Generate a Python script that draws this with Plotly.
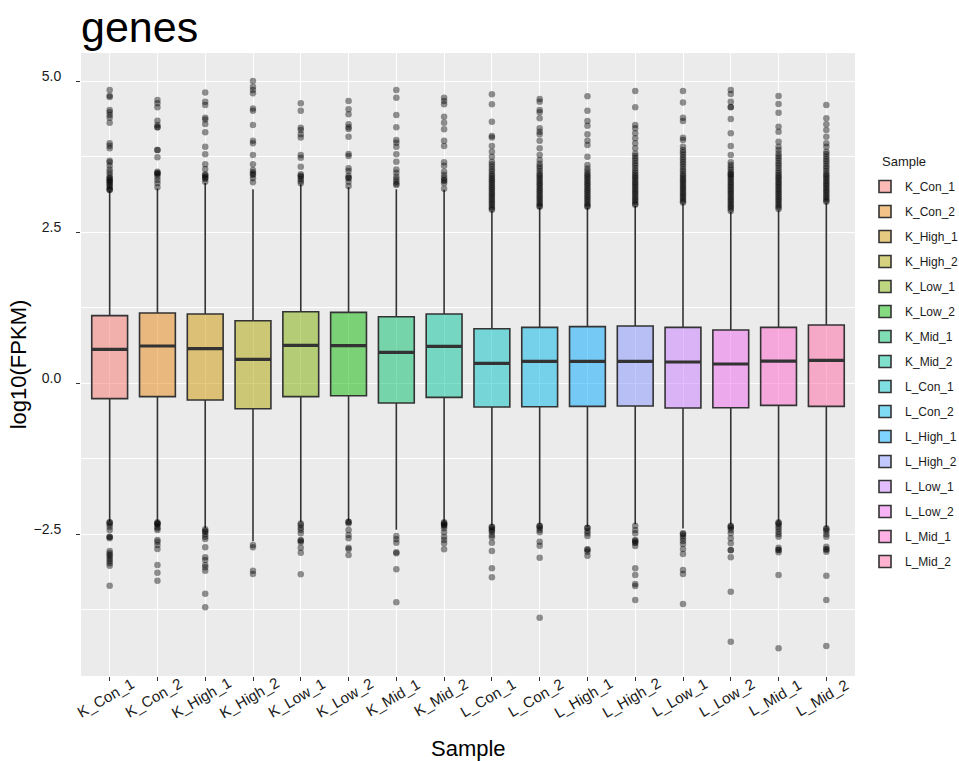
import math
import plotly.graph_objects as go

# ---- data -------------------------------------------------------------
samples = ["K_Con_1", "K_Con_2", "K_High_1", "K_High_2", "K_Low_1", "K_Low_2",
           "K_Mid_1", "K_Mid_2", "L_Con_1", "L_Con_2", "L_High_1", "L_High_2",
           "L_Low_1", "L_Low_2", "L_Mid_1", "L_Mid_2"]

q1 = [-0.259, -0.226, -0.281, -0.425, -0.226, -0.210, -0.331, -0.237,
      -0.397, -0.392, -0.386, -0.381, -0.414, -0.409, -0.370, -0.386]
median = [0.557, 0.613, 0.568, 0.392, 0.623, 0.618, 0.508, 0.607,
          0.325, 0.359, 0.359, 0.359, 0.348, 0.315, 0.364, 0.375]
q3 = [1.115, 1.159, 1.142, 1.032, 1.181, 1.170, 1.098, 1.142,
      0.899, 0.922, 0.933, 0.944, 0.922, 0.877, 0.922, 0.960]
upper_whisker = [3.18, 3.22, 3.31, 3.21, 3.29, 3.24, 3.21, 3.20,
                 2.85, 2.90, 2.90, 2.93, 2.97, 2.83, 2.86, 2.98]
lower_whisker = [-2.29, -2.29, -2.40, -2.62, -2.30, -2.28, -2.43, -2.29,
                 -2.36, -2.34, -2.38, -2.34, -2.41, -2.34, -2.29, -2.39]

outliers = {
    "K_Con_1": [4.851, 4.757, 4.735, 4.520, 4.481, 4.437, 4.393, 4.310, 3.968, 3.930,
                3.885, 3.681, 3.654, 3.598, 3.537, 3.488, 3.444, 3.389, 3.356, 3.322,
                3.278, 3.195, 3.20, 3.22, 3.25, 3.30, 3.35, 3.40,
                -2.307, -2.340, -2.378, -2.433, -2.544, -2.572, -2.781, -2.820, -2.848,
                -2.875, -2.914, -2.947, -2.986, -3.024, -3.355, -2.31, -2.55],
    "K_Con_2": [4.685, 4.630, 4.564, 4.343, 4.272, 4.233, 4.236, 3.858, 3.860, 3.736,
                3.499, 3.455, 3.470, 3.416, 3.361, 3.306, 3.240, 3.48,
                -2.307, -2.320, -2.340, -2.378, -2.406, -2.433, -2.599, -2.627,
                -2.682, -2.748, -3.013, -3.140, -3.273, -2.33],
    "K_High_1": [4.812, 4.657, 4.602, 4.393, 4.365, 4.288, 4.150, 3.913, 3.786, 3.620,
                 3.543, 3.455, 3.416, 3.377, 3.333, 3.40, 3.44,
                 -2.422, -2.461, -2.505, -2.544, -2.583, -2.721, -2.886, -2.930, -3.013,
                 -3.052, -3.107, -3.488, -3.714, -2.45],
    "K_High_2": [5.000, 4.906, 4.851, 4.796, 4.547, 4.509, 4.272, 4.012, 3.968, 3.775,
                 3.620, 3.526, 3.488, 3.444, 3.389, 3.322, 3.46,
                 -2.682, -2.721, -3.107, -3.162],
    "K_Low_1": [4.630, 4.509, 4.228, 4.189, 4.117, 4.067, 3.775, 3.731, 3.582, 3.455,
                3.416, 3.377, 3.344, 3.306, 3.43,
                -2.324, -2.395, -2.433, -2.489, -2.599, -2.638, -2.726, -2.809, -3.168,
                -2.35, -2.61],
    "K_Low_2": [4.669, 4.531, 4.448, 4.283, 4.233, 4.206, 4.079, 3.791, 3.758, 3.554,
                3.510, 3.433, 3.389, 3.333, 3.262, 3.40,
                -2.296, -2.324, -2.433, -2.516, -2.572, -2.726, -2.753, -2.848, -2.30],
    "K_Mid_1": [4.851, 4.724, 4.437, 4.233, 4.023, 3.979, 3.913, 3.786, 3.664, 3.537,
                3.482, 3.416, 3.372, 3.333, 3.278, 3.30,
                -2.533, -2.588, -2.643, -2.803, -2.820, -3.085, -3.631],
    "K_Mid_2": [4.724, 4.669, 4.614, 4.410, 4.310, 4.200, 4.012, 3.924, 3.654, 3.598,
                3.499, 3.444, 3.400, 3.344, 3.306, 3.218, 3.36,
                -2.307, -2.340, -2.368, -2.406, -2.472, -2.544, -2.599, -2.654, -2.753,
                -2.32, -2.35],
    "L_Con_1": [4.779, 4.614, 4.327, 4.090, 4.067, 3.924, 3.830, 3.747, 3.664, 3.62,
                3.58, 3.54, 3.50, 3.46, 3.43, 3.40, 3.37, 3.34, 3.31, 3.28, 3.25, 3.22,
                3.19, 3.16, 3.13, 3.10, 3.07, 3.04, 3.01, 2.98, 2.95, 2.92, 2.89, 2.87,
                -2.378, -2.417, -2.461, -2.516, -2.555, -2.643, -2.781, -3.068, -3.218,
                -2.39, -2.44],
    "L_Con_2": [4.702, 4.657, 4.520, 4.481, 4.382, 4.217, 4.161, 4.117, 4.012, 3.885,
                3.775, 3.692, 3.63, 3.59, 3.55, 3.51, 3.47, 3.44, 3.41, 3.38, 3.35, 3.32,
                3.29, 3.26, 3.23, 3.20, 3.17, 3.14, 3.11, 3.08, 3.05, 3.02, 2.99, 2.96,
                2.93, 2.92,
                -2.362, -2.395, -2.433, -2.472, -2.627, -2.693, -2.892, -3.885, -2.37],
    "L_High_1": [4.746, 4.509, 4.338, 4.261, 4.117, 4.012, 3.940, 3.747, 3.609, 3.55,
                 3.51, 3.47, 3.44, 3.41, 3.38, 3.35, 3.32, 3.29, 3.26, 3.23, 3.20, 3.17,
                 3.14, 3.11, 3.08, 3.05, 3.02, 2.99, 2.96, 2.93, 2.92,
                 -2.395, -2.450, -2.489, -2.533, -2.753, -2.792, -2.858, -2.40, -2.76],
    "L_High_2": [4.834, 4.564, 4.272, 4.217, 4.134, 4.051, 3.968, 3.885, 3.80, 3.76,
                 3.72, 3.68, 3.64, 3.60, 3.56, 3.52, 3.48, 3.45, 3.42, 3.39, 3.36, 3.33,
                 3.30, 3.27, 3.24, 3.21, 3.18, 3.15, 3.12, 3.09, 3.06, 3.03, 3.00, 2.97,
                 2.95,
                 -2.362, -2.433, -2.489, -2.599, -2.638, -2.699, -3.068, -3.179, -3.328,
                 -3.361, -3.593, -2.61, -2.65],
    "L_Low_1": [4.834, 4.646, 4.393, 4.338, 4.062, 4.023, 3.913, 3.86, 3.82, 3.78,
                3.74, 3.70, 3.66, 3.62, 3.58, 3.54, 3.50, 3.46, 3.43, 3.40, 3.37, 3.34,
                3.31, 3.28, 3.25, 3.22, 3.19, 3.16, 3.13, 3.10, 3.07, 3.04, 3.01, 2.99,
                -2.489, -2.527, -2.572, -2.616, -2.666, -2.748, -2.831, -3.096, -3.162,
                -3.659, -2.50],
    "L_Low_2": [4.851, 4.785, 4.657, 4.564, 4.371, 4.134, 3.924, 3.775, 3.654, 3.61,
                3.57, 3.53, 3.49, 3.45, 3.42, 3.39, 3.36, 3.33, 3.30, 3.27, 3.24, 3.21,
                3.18, 3.15, 3.12, 3.09, 3.06, 3.03, 3.00, 2.97, 2.94, 2.91, 2.88, 2.85,
                4.57, 3.46,
                -2.362, -2.395, -2.433, -2.489, -2.572, -2.654, -2.764, -2.886, -3.455,
                -4.283, -2.38, -2.77],
    "L_Mid_1": [4.752, 4.619, 4.476, 4.244, 4.161, 3.996, 3.913, 3.858, 3.80, 3.76,
                3.72, 3.68, 3.64, 3.60, 3.56, 3.52, 3.48, 3.45, 3.42, 3.39, 3.36, 3.33,
                3.30, 3.27, 3.24, 3.21, 3.18, 3.15, 3.12, 3.09, 3.06, 3.03, 3.00, 2.97,
                2.94, 2.91, 2.88,
                -2.307, -2.340, -2.378, -2.417, -2.461, -2.505, -2.544, -2.726, -2.764,
                -2.803, -3.179, -4.393, -2.32, -2.76],
    "L_Mid_2": [4.603, 4.382, 4.283, 4.189, 4.079, 3.968, 3.913, 3.83, 3.79, 3.75,
                3.71, 3.67, 3.63, 3.59, 3.55, 3.51, 3.47, 3.44, 3.41, 3.38, 3.35, 3.32,
                3.29, 3.26, 3.23, 3.20, 3.17, 3.14, 3.11, 3.08, 3.05, 3.02, 3.00,
                -2.406, -2.450, -2.505, -2.544, -2.710, -2.748, -2.792, -3.190, -3.593,
                -4.354, -2.42, -2.76],
}

# ---- styling ---------------------------------------------------------
def hue_colour(h, c=100.0, l=65.0):
    """Polar Luv (HCL) colour to an sRGB triple, D65 white."""
    xn, yn, zn = 95.047, 100.0, 108.883
    un = 4 * xn / (xn + 15 * yn + 3 * zn)
    vn = 9 * yn / (xn + 15 * yn + 3 * zn)
    u = c * math.cos(math.radians(h))
    v = c * math.sin(math.radians(h))
    y = ((l + 16) / 116) ** 3
    up = u / (13 * l) + un
    vp = v / (13 * l) + vn
    x = 9 * y * up / (4 * vp)
    z = y * (12 - 3 * up - 20 * vp) / (4 * vp)
    lin = [3.240479 * x - 1.537150 * y - 0.498535 * z,
           -0.969256 * x + 1.875992 * y + 0.041556 * z,
           0.055648 * x - 0.204043 * y + 1.057311 * z]
    out = []
    for ch in lin:
        ch = 12.92 * ch if ch <= 0.0031308 else 1.055 * ch ** (1 / 2.4) - 0.055
        out.append(int(round(min(max(ch, 0.0), 1.0) * 255)))
    return out


n = len(samples)
palette = [hue_colour(15 + 360.0 * i / n) for i in range(n)]

FONT = "Liberation Sans, Arial, sans-serif"
EDGE = "#333333"
TEXT = "#1a1a1a"
BOX_W = 0.75

# plot-area geometry in pixels (used to place the side texts)
W, H = 959, 761
ML, MR, MT, MB = 81, 104, 53, 85
PW, PH = W - ML - MR, H - MT - MB


def px_to_paper(xp, yp):
    return (xp - ML) / PW, (H - MB - yp) / PH


fig = go.Figure()

for i, name in enumerate(samples):
    r, g, b = palette[i]
    fig.add_trace(go.Box(
        x=[i], q1=[q1[i]], median=[median[i]], q3=[q3[i]],
        lowerfence=[lower_whisker[i]], upperfence=[upper_whisker[i]],
        name=name, legendgroup=name, width=BOX_W,
        fillcolor=f"rgba({r},{g},{b},0.5)",
        line=dict(color=EDGE, width=1.6),
        whiskerwidth=0, boxpoints=False, hoverinfo="skip",
    ))

# thicker median bars, as in a ggplot boxplot
mx, my = [], []
for i, m in enumerate(median):
    mx += [i - BOX_W / 2, i + BOX_W / 2, None]
    my += [m, m, None]
fig.add_trace(go.Scatter(x=mx, y=my, mode="lines", showlegend=False,
                         line=dict(color=EDGE, width=3.2), hoverinfo="skip"))

# outlying genes
ox, oy = [], []
for i, name in enumerate(samples):
    ox += [i] * len(outliers[name])
    oy += outliers[name]
fig.add_trace(go.Scatter(x=ox, y=oy, mode="markers", showlegend=False,
                         marker=dict(color="black", opacity=0.42, size=6.5,
                                     line=dict(width=0)),
                         hoverinfo="skip"))

# category labels: slanted, centred under each tick
annotations = []
_, lab_y = px_to_paper(0, 697)
for i, name in enumerate(samples):
    annotations.append(dict(
        x=i, xref="x", y=lab_y, yref="paper", text=name, showarrow=False,
        textangle=-30, xanchor="center", yanchor="middle", xshift=-4,
        font=dict(family=FONT, size=15, color=TEXT)))
_, xt_y = px_to_paper(0, 748)
annotations.append(dict(
    x=0.5, xref="paper", y=xt_y, yref="paper", text="Sample", showarrow=False,
    xanchor="center", yanchor="middle", font=dict(family=FONT, size=22, color="black")))
# legend heading
lh_x, lh_y = px_to_paper(880, 161)
annotations.append(dict(
    x=lh_x, xref="paper", y=lh_y, yref="paper",
    text="Sample", showarrow=False, xanchor="left", yanchor="middle",
    font=dict(family=FONT, size=13, color=TEXT)))

lg_x, lg_y = px_to_paper(865, 172)
fig.update_layout(
    width=W, height=H,
    margin=dict(l=ML, r=MR, t=MT, b=MB, autoexpand=False),
    paper_bgcolor="white", plot_bgcolor="#EBEBEB",
    font=dict(family=FONT, color=TEXT),
    title=dict(text="genes", x=ML / W, xanchor="left", y=0.985, yanchor="top",
               font=dict(size=43, color="black")),
    showlegend=True,
    legend=dict(font=dict(size=12, color=TEXT), itemwidth=30,
                x=lg_x, xanchor="left", y=lg_y, yanchor="top",
                tracegroupgap=6.0, bgcolor="rgba(0,0,0,0)", itemclick=False),
    annotations=annotations,
    xaxis=dict(range=[-0.6, n - 1 + 0.6], tickmode="array",
               tickvals=list(range(n)), showticklabels=False,
               ticks="outside", ticklen=4, tickcolor=EDGE, tickwidth=1,
               showgrid=True, gridcolor="white", gridwidth=1.1,
               zeroline=False, showline=False),
    yaxis=dict(range=[-4.851, 5.464], tickmode="array",
               tickvals=[-2.5, 0, 2.5, 5.0], ticktext=["\u22122.5", "0.0", "2.5", "5.0"],
               tickfont=dict(size=14, color=TEXT),
               ticks="outside", ticklen=4, tickcolor=EDGE, tickwidth=1,
               ticklabelstandoff=12, ticklabelshift=-5,
               showgrid=True, gridcolor="white", gridwidth=1.1,
               minor=dict(tickvals=[-3.75, -1.25, 1.25, 3.75], showgrid=True,
                          gridcolor="white", gridwidth=0.5, ticks=""),
               zeroline=False, showline=False,
               title=dict(text="log10(FPKM)", font=dict(size=22, color="black"),
                          standoff=0)),
)

fig.write_html("out.html")
